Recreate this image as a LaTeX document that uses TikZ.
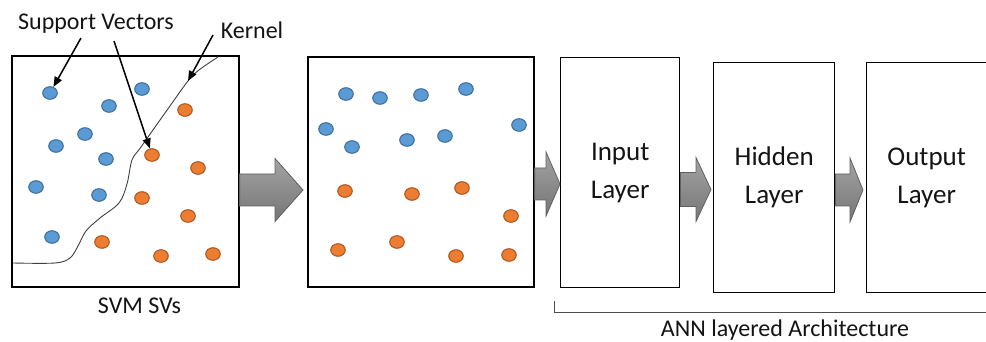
\documentclass[tikz,border=0pt]{standalone}
\usepackage{fontspec}
\setmainfont{Carlito}
\usetikzlibrary{arrows.meta,calc,shapes.geometric}

\definecolor{dotblue}{HTML}{5B9BD5}
\definecolor{dotblueline}{HTML}{41719C}
\definecolor{dotorange}{HTML}{ED7D31}
\definecolor{dotorangeline}{HTML}{AE5A21}
\definecolor{inkgray}{HTML}{141414}

\tikzset{
  panel/.style={draw=black, line width=1.6pt, fill=white, anchor=north west, inner sep=0pt},
  layerbox/.style={panel, line width=1.4pt, align=center,
    font=\fontsize{27}{38}\selectfont, text=inkgray},
  bdot/.style={ellipse, inner sep=0pt, minimum width=14.5pt, minimum height=12.5pt,
    fill=dotblue, draw=dotblueline, line width=1.1pt},
  odot/.style={bdot, fill=dotorange, draw=dotorangeline},
  captiontext/.style={font=\fontsize{24}{28}\selectfont, text=inkgray, inner sep=0pt},
  pointer/.style={line width=1.5pt, -{Triangle[length=10pt,width=8pt]}},
  fatarrow/.style={draw=black!62, line width=0.8pt, top color=black!36, bottom color=black!54},
  kernelline/.style={draw=black!75, line width=0.9pt},
  bracketline/.style={draw=black!70, line width=0.9pt},
}

% Block arrow from the east side of #1 to just before the west side of #2.
% #3 centre y, #4 gap before #2, #5 shaft half width, #6 head half width, #7 head length
\newcommand\blockarrow[7]{%
  \path[fatarrow] let \p1=(#1.east), \p2=(#2.west), \p3=(0,#3) in
    (\x1,\y3+#5) -- (\x2-#4-#7,\y3+#5) -- (\x2-#4-#7,\y3+#6) -- (\x2-#4,\y3)
    -- (\x2-#4-#7,\y3-#6) -- (\x2-#4-#7,\y3-#5) -- (\x1,\y3-#5) -- cycle;}

\begin{document}
\begin{tikzpicture}[x=1pt,y=-1pt]
  \useasboundingbox[fill=white] (0,0) rectangle (986,342);

  % feature-space panels
  \node[panel, minimum width=227pt, minimum height=231pt] (svm) at (11,55) {};
  \node[panel, minimum width=226pt, minimum height=230pt] (map) at (307,56) {};

  % network layers
  \node[layerbox, minimum width=119pt, minimum height=230pt] (inl) at (560,57) {Input\\Layer};
  \node[layerbox, minimum width=121pt, minimum height=230pt] (hid) at (713,62) {Hidden\\Layer};
  \node[layerbox, minimum width=120pt, minimum height=230pt] (outl) at (866,62) {Output\\Layer};

  % kernel decision boundary
  \draw[kernelline] plot[smooth, tension=0.55] coordinates {
    (13,263) (55,263) (70,258) (78,246) (86,231) (100,218) (119,203)
    (127,184) (132,160) (141,147) (165,113) (188,81) (199,70) (218,57)};
  \coordinate (kpt) at (188,81);

  % samples, left panel
  \foreach \x/\y [count=\i] in {50/93,142/89,109/106,85/134,56/146,106/159,36/187,99/195,52/237}
    \node[bdot] (pb\i) at (\x,\y) {};
  \foreach \x/\y [count=\i] in {185/110,152/155,198/168,142/198,188/216,102/242,161/256,213/254}
    \node[odot] (po\i) at (\x,\y) {};

  % samples, right panel
  \foreach \x/\y [count=\i] in {346/94,380/98,421/95,466/89,326/129,352/147,407/140,445/136,519/125}
    \node[bdot] (qb\i) at (\x,\y) {};
  \foreach \x/\y [count=\i] in {345/191,412/194,462/188,511/216,338/250,397/242,456/256,509/255}
    \node[odot] (qo\i) at (\x,\y) {};

  % block arrows
  \blockarrow{svm}{map}{190}{4pt}{16pt}{31.5pt}{28pt}
  \blockarrow{map}{inl}{184}{0pt}{16pt}{32pt}{14pt}
  \blockarrow{inl}{hid}{189.5}{2pt}{17pt}{32pt}{15pt}
  \blockarrow{hid}{outl}{190}{3pt}{16pt}{32pt}{13pt}

  % captions
  \node[captiontext] (svlabel) at (96,24) {Support Vectors};
  \node[captiontext] (klabel) at (252,30) {Kernel};
  \node[captiontext] (svmcap) at (139.5,306) {SVM SVs};
  \node[captiontext] (anncap) at (785,330) {ANN layered Architecture};

  % pointers from captions
  \coordinate (svtail1) at (81,38);
  \coordinate (svtail2) at (114,41);
  \coordinate (ktail) at (213,35);
  \draw[pointer] (svtail1) -- (pb1);
  \draw[pointer] (svtail2) -- (po2);
  \draw[pointer] (ktail) -- (kpt);

  % bracket under the network
  \draw[bracketline] (554,301) -- (554,312) -- (987,312);
\end{tikzpicture}
\end{document}
